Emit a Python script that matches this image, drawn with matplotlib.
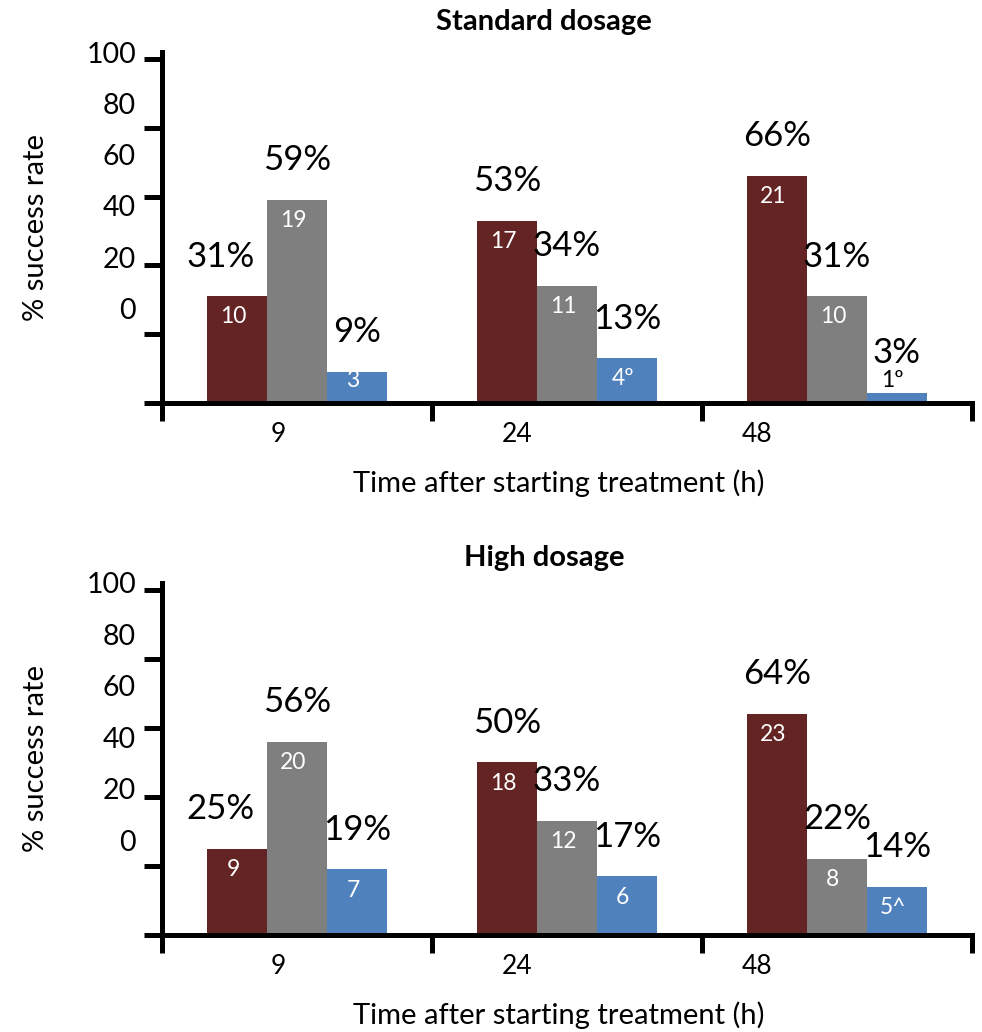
import numpy as np
import matplotlib
matplotlib.use("Agg")
import matplotlib.pyplot as plt

plt.rcParams['font.family'] = ['Lato', 'DejaVu Sans']

# Time points (hours after starting treatment)
TIMES = ["9", "24", "48"]
Y_TICKS = [0, 20, 40, 60, 80, 100]

# Standard dosage: success rate (%) and number of patients per series
STD_RED = [31, 53, 66]
STD_GREY = [59, 34, 31]
STD_BLUE = [9, 13, 3]
STD_RED_N = ["10", "17", "21"]
STD_GREY_N = ["19", "11", "10"]
STD_BLUE_N = ["3", "4º", "1º"]

# High dosage: success rate (%) and number of patients per series
HIGH_RED = [25, 50, 64]
HIGH_GREY = [56, 33, 22]
HIGH_BLUE = [19, 17, 14]
HIGH_RED_N = ["9", "18", "23"]
HIGH_GREY_N = ["20", "12", "8"]
HIGH_BLUE_N = ["7", "6", "5^"]

COLORS = ["#632423", "#7f7f7f", "#4f81bd"]

fig = plt.figure(figsize=(9.82, 10.32), dpi=100)

panels = [
    ("Standard dosage", [0.16497, 0.6095, 0.82485, 0.3401], 1.085,
     [STD_RED, STD_GREY, STD_BLUE], [STD_RED_N, STD_GREY_N, STD_BLUE_N]),
    ("High dosage", [0.16497, 0.0940, 0.82485, 0.3411], 1.071,
     [HIGH_RED, HIGH_GREY, HIGH_BLUE], [HIGH_RED_N, HIGH_GREY_N, HIGH_BLUE_N]),
]

bar_w = 0.222
x = np.arange(len(TIMES))
line_w = 3.6

for title, rect, title_y, series, counts in panels:
    ax = fig.add_axes(rect)
    for k, (vals, ns, col) in enumerate(zip(series, counts, COLORS)):
        xs = x + (k - 1) * bar_w
        ax.bar(xs, vals, width=bar_w, color=col, linewidth=0, zorder=2)
        for j, (xi, v, n) in enumerate(zip(xs, vals, ns)):
            nudge = -0.06 if (k == 0 and j == 0) else 0.0
            ax.text(xi + nudge, v + 11.5, f"{v}%", ha="center", va="center",
                    fontsize=25, color="black", zorder=3)
            yc = max(v - 6, 6.5)
            ax.text(xi - 0.015, yc, n, ha="center", va="center", fontsize=16.5,
                    color="white" if yc < v else "black", zorder=3)

    ax.set_xlim(-0.5, 2.5)
    ax.set_ylim(0, 100)

    for side in ("top", "right"):
        ax.spines[side].set_visible(False)
    for side in ("left", "bottom"):
        ax.spines[side].set_linewidth(line_w)
        ax.spines[side].set_color("black")

    # tick marks at group boundaries / every 20 %, labels on offset minor ticks
    ax.set_yticks(Y_TICKS)
    ax.set_yticklabels([])
    ax.set_yticks([27.5 + 0.745 * v for v in Y_TICKS], minor=True)
    ax.set_yticklabels([str(v) for v in Y_TICKS], minor=True)
    ax.tick_params(axis="y", which="major", length=13, width=line_w, direction="out")
    ax.tick_params(axis="y", which="minor", length=0, pad=18.7, labelsize=20.5)

    ax.set_xticks(np.arange(-0.5, len(TIMES) + 0.5, 1.0))
    ax.set_xticklabels([])
    ax.set_xticks([-0.07 + 0.886 * i for i in range(len(TIMES))], minor=True)
    ax.set_xticklabels(TIMES, minor=True)
    ax.tick_params(axis="x", which="major", length=13, width=line_w, direction="out")
    ax.tick_params(axis="x", which="minor", length=0, pad=14, labelsize=19)

    ax.set_xlabel("Time after starting treatment (h)", fontsize=21)
    ax.xaxis.set_label_coords(0.49, -0.228)
    ax.xaxis.label.set_va("center")
    ax.set_ylabel("% success rate", fontsize=21)
    ax.yaxis.set_label_coords(-0.1556, 0.5)
    ax.yaxis.label.set_va("center")

    ax.text(0.4716, title_y, title, transform=ax.transAxes, ha="center",
            va="center", fontsize=21, fontweight="bold")

fig.savefig("out.png", dpi=100)
